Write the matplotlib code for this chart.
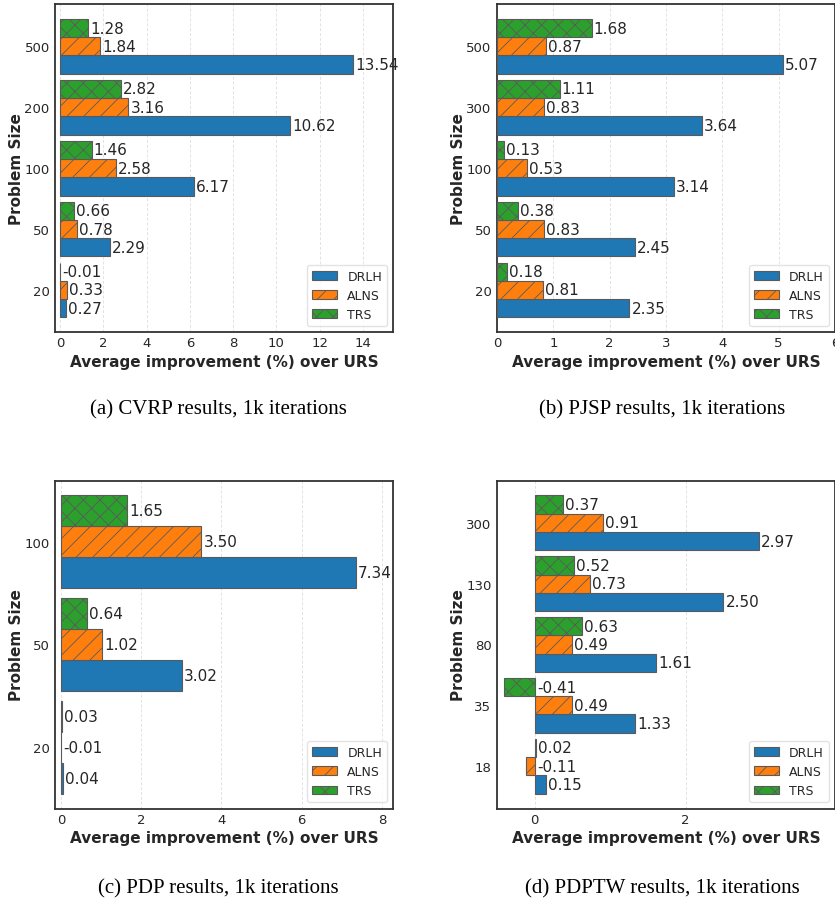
import matplotlib
matplotlib.use('Agg')
import matplotlib.pyplot as plt
import numpy as np

methods = ["DRLH", "ALNS", "TRS"]

cvrp_sizes = ["20", "50", "100", "200", "500"]
cvrp_drlh = [0.27, 2.29, 6.17, 10.62, 13.54]
cvrp_alns = [0.33, 0.78, 2.58, 3.16, 1.84]
cvrp_trs = [-0.01, 0.66, 1.46, 2.82, 1.28]

pjsp_sizes = ["20", "50", "100", "300", "500"]
pjsp_drlh = [2.35, 2.45, 3.14, 3.64, 5.07]
pjsp_alns = [0.81, 0.83, 0.53, 0.83, 0.87]
pjsp_trs = [0.18, 0.38, 0.13, 1.11, 1.68]

pdp_sizes = ["20", "50", "100"]
pdp_drlh = [0.04, 3.02, 7.34]
pdp_alns = [-0.01, 1.02, 3.50]
pdp_trs = [0.03, 0.64, 1.65]

pdptw_sizes = ["18", "35", "80", "130", "300"]
pdptw_drlh = [0.15, 1.33, 1.61, 2.50, 2.97]
pdptw_alns = [-0.11, 0.49, 0.49, 0.73, 0.91]
pdptw_trs = [0.02, -0.41, 0.63, 0.52, 0.37]

captions = ["(a) CVRP results, 1k iterations", "(b) PJSP results, 1k iterations",
            "(c) PDP results, 1k iterations", "(d) PDPTW results, 1k iterations"]

colors = ["#1f77b4", "#ff7f0e", "#2ca02c"]
hatches = [None, "//", "xx"]
text_col = "#262626"

plt.rcParams['font.family'] = 'DejaVu Sans'
plt.rcParams['hatch.linewidth'] = 0.6

W, H = 835.0, 903.0
fig = plt.figure(figsize=(W / 100, H / 100), dpi=100)


def px_axes(left, top, right, bottom):
    return fig.add_axes([left / W, 1 - bottom / H, (right - left) / W, (bottom - top) / H])


def panel(ax, sizes, drlh, alns, trs, xlim, xticks):
    y = np.arange(len(sizes))
    h = 0.3
    for i, (vals, off) in enumerate([(drlh, -h), (alns, 0.0), (trs, h)]):
        ax.barh(y + off, vals, height=h, color=colors[i], edgecolor="#5a5a5a",
                linewidth=0.8, hatch=hatches[i], label=methods[i], zorder=3)
        for yy, v in zip(y + off, vals):
            ax.annotate("{:.2f}".format(v), xy=(max(v, 0), yy), xytext=(1.5, 0),
                        textcoords="offset points", va="center", ha="left",
                        fontsize=11, color=text_col, zorder=4, annotation_clip=False)
    ax.set_yticks(y)
    ax.set_yticklabels(sizes)
    ax.set_xlim(*xlim)
    ax.set_xticks(xticks)
    ax.margins(y=0.05)
    ax.grid(axis="x", color="#e2e2e2", linestyle=(0, (3, 2)), linewidth=0.7, zorder=0)
    ax.grid(axis="y", visible=False)
    ax.tick_params(axis="y", length=0, pad=4, labelsize=9.5, colors=text_col)
    ax.tick_params(axis="x", length=0, pad=3, labelsize=9.5, colors=text_col)
    for s in ax.spines.values():
        s.set_color("#333333")
        s.set_linewidth(1.3)
    ax.set_xlabel("Average improvement (%) over URS", fontsize=11, fontweight="bold",
                  color=text_col, labelpad=3)
    ax.set_ylabel("Problem Size", fontsize=11, fontweight="bold", color=text_col,
                  labelpad=0)
    leg = ax.legend(loc="lower right", fontsize=9, frameon=True, fancybox=True)
    leg.get_frame().set_edgecolor("#dddddd")
    for t in leg.get_texts():
        t.set_color(text_col)


ax1 = px_axes(55.3, 5, 393.3, 333.3)
panel(ax1, cvrp_sizes, cvrp_drlh, cvrp_alns, cvrp_trs, (-0.22, 15.4), np.arange(0, 15, 2))

ax2 = px_axes(497, 5, 835, 333.3)
panel(ax2, pjsp_sizes, pjsp_drlh, pjsp_alns, pjsp_trs, (0, 6), np.arange(0, 7, 1))

ax3 = px_axes(55.3, 481.5, 393.3, 809.5)
panel(ax3, pdp_sizes, pdp_drlh, pdp_alns, pdp_trs, (-0.14, 8.28), np.arange(0, 9, 2))

ax4 = px_axes(497, 481.5, 835, 809.5)
panel(ax4, pdptw_sizes, pdptw_drlh, pdptw_alns, pdptw_trs, (-0.5, 3.98), [0, 2])

cap_pos = [(218, 410), (662, 410), (218, 889), (662, 889)]
for (cx, cy), cap in zip(cap_pos, captions):
    fig.text(cx / W, 1 - cy / H, cap, ha="center", va="center", fontsize=15,
             family="Liberation Serif", color="black")

fig.savefig("out.png", dpi=100)
